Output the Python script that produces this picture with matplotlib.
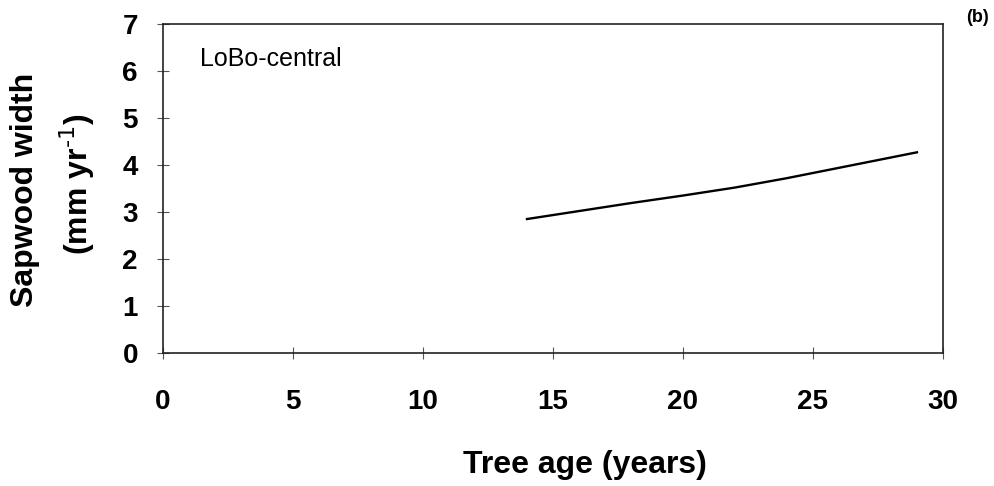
import numpy as np
import matplotlib.pyplot as plt

plt.rcParams['font.family'] = ['Liberation Sans', 'DejaVu Sans']

# sapwood width vs tree age, LoBo-central
age = [14, 16, 18, 20, 22, 24, 26, 28, 29]
width = [2.85, 3.02, 3.19, 3.35, 3.52, 3.72, 3.94, 4.16, 4.27]

xticks = [0, 5, 10, 15, 20, 25, 30]
yticks = [0, 1, 2, 3, 4, 5, 6, 7]

fig = plt.figure(figsize=(9.95, 4.86), dpi=100)
ax = fig.add_axes([0.1638, 0.2737, 0.7839, 0.6769])

ax.plot(age, width, color='black', linewidth=1.7)

ax.set_xlim(0, 30)
ax.set_ylim(0, 7)
ax.set_xticks(xticks)
ax.set_yticks(yticks)
ax.tick_params(direction='inout', length=8, width=0.8, color='#555555',
               labelsize=20, top=False, right=False)
ax.tick_params(axis='x', pad=22)
ax.tick_params(axis='y', pad=14)
for lab in ax.get_xticklabels() + ax.get_yticklabels():
    lab.set_fontweight('bold')
for s in ax.spines.values():
    s.set_linewidth(1.2)
    s.set_color('#222222')

ax.text(0.047, 0.93, 'LoBo-central', transform=ax.transAxes, fontsize=18,
        va='top', ha='left')

fig.text(0.588, 0.043, 'Tree age (years)', fontsize=23, fontweight='bold',
         ha='center', va='center')
fig.text(0.025, 0.61, 'Sapwood width', fontsize=23, fontweight='bold',
         rotation=90, ha='center', va='center')
fig.text(0.078, 0.62, '(mm yr$^{\\text{-1}}$)', fontsize=23, fontweight='bold',
         rotation=90, ha='center', va='center')
fig.text(0.982, 0.965, '(b)', fontsize=13, fontweight='bold',
         ha='center', va='center')

plt.savefig('out.png', dpi=100)
